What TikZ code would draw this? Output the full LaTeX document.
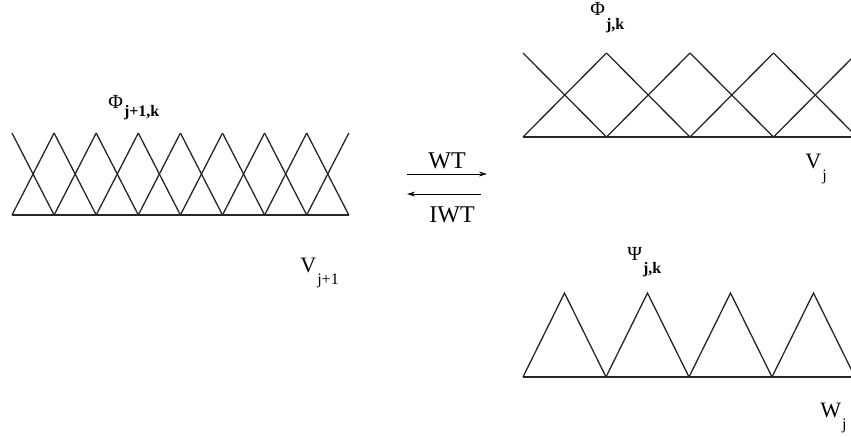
\documentclass[tikz,border=0pt]{standalone}
\usepackage{fontspec}
\setmainfont{Liberation Serif}
\usetikzlibrary{arrows.meta}
\tikzset{
    % thin lines of the hat functions
    basis/.style={
        line width=0.65pt,
        draw=black!85,
    },
    % names of the spaces (V, W)
    space label/.style={
        anchor=base west,
        inner sep=0pt,
        font=\fontsize{11}{12}\selectfont,
    },
    % names of the functions (Phi, Psi)
    func label/.style={
        anchor=base west,
        inner sep=0pt,
        font=\fontsize{10}{11}\selectfont,
    },
    % transform names
    op label/.style={
        anchor=base,
        inner sep=0pt,
        font=\fontsize{12}{13}\selectfont,
    },
    % transform arrows
    op arrow/.style={
        -{Stealth[length=4pt, width=2.4pt]},
        line width=0.5pt,
    },
}
% lowered small subscript
\newcommand{\lowsub}[2]{\kern0.5pt\raisebox{-#1}{\fontsize{8}{9}\selectfont #2}}

\begin{document}
\begin{tikzpicture}[x=0.5pt, y=-0.5pt]
    \useasboundingbox (0,0) rectangle (851,436);

    % fine scale: V_{j+1}
    \draw [basis] (12,215) -- (349,215);
    \foreach \i in {0,...,7} {
        \draw [basis] ({12+42.1*\i},215) -- ({12+42.1*(\i+1)},133);
        \draw [basis] ({12+42.1*\i},133) -- ({12+42.1*(\i+1)},215);
    }

    % coarse scale: V_j and W_j
    \begin{scope}
        \clip (0,0) rectangle (851,436);
        \draw [basis] (523,137) -- (851,137);
        \foreach \i in {0,...,3} {
            \draw [basis] ({523+83.5*\i},137) -- ({523+83.5*(\i+1)},53);
            \draw [basis] ({523+83.5*\i},53) -- ({523+83.5*(\i+1)},137);
        }
        \draw [basis] (523,377) -- (851,377);
        \foreach \i in {0,...,3}
            \draw [basis] ({523+83*\i},377) -- ({564.5+83*\i},293) -- ({606+83*\i},377);
    \end{scope}

    % labels
    \node (phi_fine) [func label] at (108,108) {Φ\lowsub{4pt}{\textbf{j+1,k}}};
    \node (v_fine) [space label] at (300,272) {V\lowsub{6pt}{j+1}};
    \node (phi_coarse) [func label] at (590,15) {Φ\lowsub{7pt}{\textbf{j,k}}};
    \node (v_coarse) [space label] at (805,168) {V\lowsub{6pt}{j}};
    \node (psi_coarse) [func label] at (627,260) {Ψ\lowsub{6.5pt}{\textbf{j,k}}};
    \node (w_coarse) [space label] at (820,417) {W\lowsub{6pt}{j}};

    % transforms
    \node (wt) [op label] at (447,168) {WT};
    \node (iwt) [op label] at (452,222) {IWT};
    \coordinate (wt_start) at (407,174);
    \coordinate (wt_end) at (487,174);
    \coordinate (iwt_start) at (481,194);
    \coordinate (iwt_end) at (407,194);
    \draw [op arrow] (wt_start) -- (wt_end);
    \draw [op arrow] (iwt_start) -- (iwt_end);
\end{tikzpicture}
\end{document}
